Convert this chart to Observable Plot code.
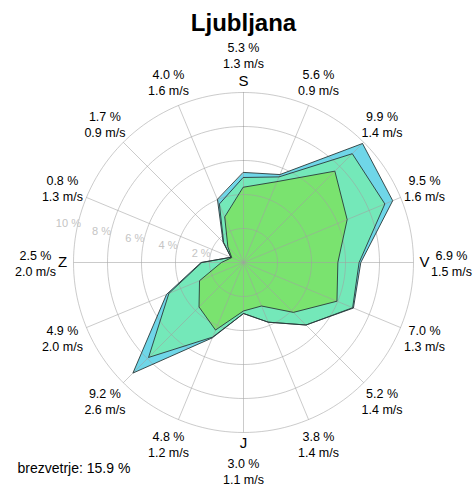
<!DOCTYPE html>
<html><head><meta charset="utf-8">
<script src="https://cdn.jsdelivr.net/npm/d3@7"></script>
<script src="https://cdn.jsdelivr.net/npm/@observablehq/plot@0.6"></script>
<style>body{margin:0;background:#fff} svg{display:block}</style>
</head><body><div id="chart"></div>
<script>
// ---- data ----
const station = "Ljubljana";
const directions = ["S","SSV","SV","VSV","V","VJV","JV","JJV","J","JJZ","JZ","ZJZ","Z","ZSZ","SZ","SSZ"];
const freqTotal = [5.3,5.6,9.9,9.5,6.9,7.0,5.2,3.8,3.0,4.8,9.2,4.9,2.5,0.8,1.7,4.0];
const speedMean = [1.3,0.9,1.4,1.6,1.5,1.3,1.4,1.4,1.1,1.2,2.6,2.0,2.0,1.3,0.9,1.6];
const freqMiddle = [5.0,5.45,9.05,9.0,6.8,6.95,5.2,3.8,3.0,4.75,7.9,4.75,2.45,0.8,1.65,3.7];
const freqInner = [4.43,5.15,7.6,6.6,5.55,5.95,4.15,2.77,2.85,4.3,3.7,2.8,1.3,0.75,1.3,2.88];
const ringValues = [2,4,6,8,10];
const cardinalLetters = ["S","V","J","Z"];
const calmPct = 15.9;

// ---- layout ----
const W = 476, H = 488, cx = 243, cy = 262, pxPerPct = 17;
const ang = i => i * Math.PI / 8;
const polar = (i, r) => ({x: r * Math.sin(ang(i)), y: r * Math.cos(ang(i))});
const poly = vals => vals.map((v, i) => polar(i, v));
const circle = r => d3.range(0, 361, 2).map(a => ({x: r * Math.sin(a * Math.PI / 180), y: r * Math.cos(a * Math.PI / 180), r}));

const colBlue = "#6fd6e8", colTeal = "#74e8b9", colGreen = "#7ae36f";
const layers = [[freqTotal, colBlue], [freqMiddle, colTeal], [freqInner, colGreen]];

const gridPts = ringValues.flatMap(circle);
const spokes = directions.map((d, i) => ({x2: polar(i, 10).x, y2: polar(i, 10).y}));
const ringLabelAng = 12.5 * Math.PI / 180;
const ringLabels = ringValues.map(r => ({x: -(r + 0.55) * Math.cos(ringLabelAng), y: (r + 0.55) * Math.sin(ringLabelAng), t: r + " %"}));
const valueLabels = directions.map((d, i) => {
  const rr = (i % 4 === 0 ? 208 : 196) / pxPerPct;
  return {...polar(i, rr), t: `${freqTotal[i].toFixed(1)} %\n${speedMean[i].toFixed(1)} m/s`};
});
const letterLabels = cardinalLetters.map((l, k) => ({...polar(k * 4, 181 / pxPerPct), t: l}));

const marks = [];
for (const [vals, c] of layers) marks.push(Plot.line(poly(vals), {x: "x", y: "y", curve: "linear-closed", fill: c, stroke: "none"}));
marks.push(Plot.line(gridPts, {x: "x", y: "y", z: "r", stroke: "#a0a0a0", strokeOpacity: 0.55, strokeWidth: 1}));
marks.push(Plot.link(spokes, {x1: 0, y1: 0, x2: "x2", y2: "y2", stroke: "#a0a0a0", strokeOpacity: 0.55, strokeWidth: 1}));
for (const [vals] of layers) marks.push(Plot.line(poly(vals), {x: "x", y: "y", curve: "linear-closed", fill: "none", stroke: "#2a3a3a", strokeWidth: 0.9}));
marks.push(Plot.text(ringLabels, {x: "x", y: "y", text: "t", fill: "#c4c4c4", fontSize: 11}));
marks.push(Plot.text(valueLabels, {x: "x", y: "y", text: "t", fill: "#000", fontSize: 12.5, lineHeight: 1.28}));
marks.push(Plot.text(letterLabels, {x: "x", y: "y", text: "t", fill: "#000", fontSize: 15}));
marks.push(Plot.text([station], {x: 0, y: (cy - 23) / pxPerPct, text: d => d, fontSize: 24, fontWeight: "bold", fill: "#000"}));
marks.push(Plot.text([calmPct], {x: (17 - cx) / pxPerPct, y: (cy - 468) / pxPerPct, text: d => `brezvetrje: ${d.toFixed(1)} %`, textAnchor: "start", fontSize: 14, fill: "#000"}));

const chart = Plot.plot({
  width: W, height: H, margin: 0,
  x: {domain: [-cx / pxPerPct, (W - cx) / pxPerPct], axis: null},
  y: {domain: [-(H - cy) / pxPerPct, cy / pxPerPct], axis: null},
  style: {fontFamily: "'Liberation Sans', Arial, sans-serif", background: "#fff", overflow: "visible"},
  marks
});
document.getElementById("chart").appendChild(chart);
</script>
</body></html>
